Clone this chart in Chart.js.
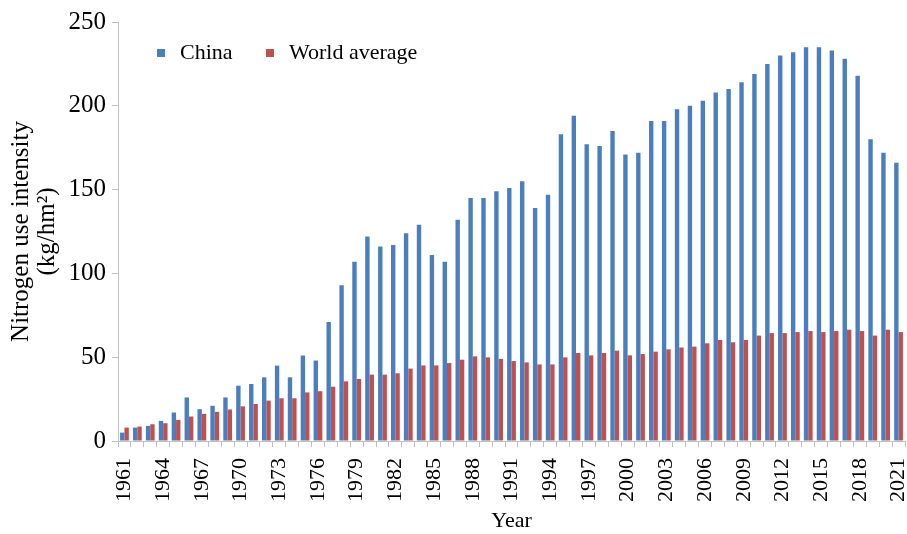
<!DOCTYPE html>
<html>
<head>
<meta charset="utf-8">
<script src="https://cdn.jsdelivr.net/npm/chart.js@4/dist/chart.umd.min.js"></script>
<style>
  html, body { margin: 0; padding: 0; background: #fff; }
  #wrap { width: 907px; height: 534px; }
</style>
</head>
<body>
<div id="wrap"><canvas id="nChart" width="907" height="534"></canvas></div>
<script>
// years 1961..2021
const years = [];
for (let y = 1961; y <= 2021; y++) years.push(String(y));

// China, kg/hm2
const china = [
  5, 8, 9, 12, 17, 26, 19, 21, 26, 33,
  34, 38, 45, 38, 51, 48, 71, 93, 107, 122,
  116, 117, 124, 129, 111, 107, 132, 145, 145, 149,
  151, 155, 139, 147, 183, 194, 177, 176, 185, 171,
  172, 191, 191, 198, 200, 203, 208, 210, 214, 219,
  225, 230, 232, 235, 235, 233, 228, 218, 180, 172,
  166
];

// World average, kg/hm2
const world = [
  8, 8.6, 10, 10.6, 12.6, 14.6, 16.2, 17.4, 18.8, 20.7,
  22.1, 24.1, 25.5, 25.5, 29, 29.7, 32.4, 35.6, 37, 39.6,
  39.6, 40.4, 43.2, 45.1, 45.1, 46.5, 48.5, 50.5, 49.9, 49,
  47.7, 46.9, 45.7, 45.7, 49.9, 52.5, 51.1, 52.5, 53.9, 51.1,
  51.9, 53.3, 54.7, 55.8, 56.3, 58.3, 60.3, 58.9, 60.3, 62.9,
  64.4, 64.4, 65, 65.6, 65, 65.6, 66.4, 65.6, 62.9, 66.4,
  65
];

const yTicks = [0, 50, 100, 150, 200, 250];

const serif = '"Liberation Serif", "Times New Roman", serif';
const blue = '#4a7ebf';
const red = '#c0504d';

// legend drawn inside the plot, top left
const legendInPlot = {
  id: 'legendInPlot',
  afterDraw(chart) {
    const ctx = chart.ctx;
    ctx.save();
    ctx.font = '22px ' + serif;
    ctx.textBaseline = 'middle';
    chart.data.datasets.forEach((ds, i) => {
      const x = i === 0 ? 157 : 266;
      ctx.fillStyle = ds.backgroundColor;
      ctx.fillRect(x, 49, 8, 8);
      ctx.fillStyle = '#000';
      ctx.fillText(ds.label, x + 23, 53);
    });
    ctx.restore();
  }
};

new Chart('nChart', {
  type: 'bar',
  data: {
    labels: years,
    datasets: [
      { label: 'China', data: china, backgroundColor: blue },
      { label: 'World average', data: world, backgroundColor: red }
    ]
  },
  options: {
    responsive: false,
    animation: false,
    layout: { padding: { top: 22, right: 2, left: 0, bottom: 0 } },
    plugins: {
      legend: { display: false },
      tooltip: { enabled: false }
    },
    datasets: {
      bar: { categoryPercentage: 0.68, barPercentage: 1.0 }
    },
    scales: {
      x: {
        grid: { display: true, drawOnChartArea: false, drawTicks: true, tickLength: 6, color: '#bfbfbf' },
        border: { display: true, color: '#bfbfbf', width: 1 },
        ticks: {
          autoSkip: false,
          minRotation: 90,
          maxRotation: 90,
          padding: 11,
          color: '#000',
          font: { family: serif, size: 22 },
          callback: function (val, idx) { return idx % 3 === 0 ? this.getLabelForValue(val) : ''; }
        },
        title: { display: true, text: 'Year', color: '#000', font: { family: serif, size: 22 }, padding: { top: 0, bottom: 0 } },
        afterFit(scale) {
          scale.height = 93;
          scale.paddingLeft = 0;
          scale.paddingRight = 0;
        }
      },
      y: {
        min: 0,
        max: 250,
        afterBuildTicks(scale) { scale.ticks = yTicks.map(v => ({ value: v })); },
        grid: { display: true, drawOnChartArea: false, drawTicks: true, tickLength: 6, color: '#bfbfbf' },
        border: { display: true, color: '#bfbfbf', width: 1 },
        ticks: { color: '#000', padding: 6, font: { family: serif, size: 25 } },
        title: {
          display: true,
          text: ['Nitrogen use intensity', '(kg/hm\u00B2)'],
          color: '#000',
          font: { family: serif, size: 25, lineHeight: 1.05 },
          padding: { top: 8, bottom: 4 }
        },
        afterFit(scale) { scale.width = 118; }
      }
    }
  },
  plugins: [legendInPlot]
});
</script>
</body>
</html>
